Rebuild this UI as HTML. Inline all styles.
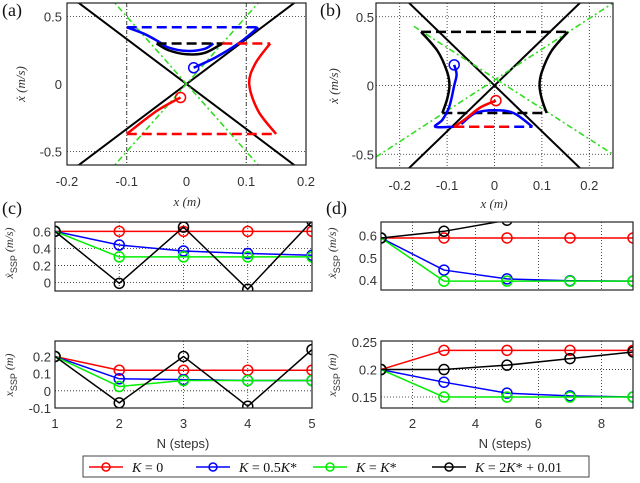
<!DOCTYPE html>
<html><head><meta charset="utf-8"><style>
body{margin:0;background:#fff}
svg text{font-family:"Liberation Sans",sans-serif}
.tk{font-size:13px;fill:#333}
.sr{font-family:"Liberation Serif",serif;font-style:italic}
</style></head><body>
<svg id="s" width="640" height="478" xmlns="http://www.w3.org/2000/svg"></svg>
<script>
const NS="http://www.w3.org/2000/svg";
const S=document.getElementById('s');
// ---- data ----
const colors=["#ff0000","#0000ff","#00ee00","#000000"];
const seriesNames=["K = 0","K = 0.5K*","K = K*","K = 2K* + 0.01"];
const cN=[1,2,3,4,5];
const cVel_red=[0.6,0.6,0.6,0.6,0.6];
const cVel_blue=[0.6,0.44,0.37,0.34,0.32];
const cVel_green=[0.6,0.30,0.30,0.30,0.30];
const cVel_black=[0.6,-0.01,0.65,-0.08,0.72];
const cPos_red=[0.2,0.12,0.12,0.12,0.12];
const cPos_blue=[0.2,0.07,0.065,0.06,0.06];
const cPos_green=[0.2,0.025,0.06,0.06,0.06];
const cPos_black=[0.2,-0.07,0.2,-0.09,0.24];
const dN=[1,3,5,7,9];
const dVel_red=[0.59,0.59,0.59,0.59,0.59];
const dVel_blue=[0.59,0.445,0.405,0.397,0.395];
const dVel_green=[0.59,0.395,0.395,0.395,0.395];
const dVel_black=[0.59,0.62,0.67,0.72,0.78];
const dPos_red=[0.2,0.235,0.235,0.235,0.235];
const dPos_blue=[0.2,0.177,0.157,0.152,0.15];
const dPos_green=[0.2,0.15,0.15,0.15,0.15];
const dPos_black=[0.2,0.2,0.208,0.22,0.232];
const aXTicks=[-0.2,-0.1,0,0.1,0.2];
const aYTicks=[-0.5,0,0.5];
const cVelTicks=[0,0.2,0.4,0.6];
const cPosTicks=[-0.1,0,0.1,0.2];
const dVelTicks=[0.4,0.5,0.6];
const dPosTicks=[0.15,0.2,0.25];
const dXTicks=[2,4,6,8];
// phase curves (data coords)
const aBlueDash=[[-0.1,0.42],[0.12,0.42]];
const aBlueSolid1=[[-0.1,0.42],[-0.07,0.37],[-0.045,0.31]];
const aBlueArc=[[-0.045,0.31],[-0.03,0.27],[0,0.245],[0.03,0.26],[0.045,0.3]];
const aBlueSolid2=[[0.012,0.12],[0.05,0.2],[0.09,0.31],[0.12,0.42]];
const aBlackDash=[[-0.05,0.3],[0.06,0.3]];
const aBlackArc=[[-0.05,0.3],[-0.03,0.25],[0,0.22],[0.03,0.23],[0.06,0.3]];
const aRedSolid=[[-0.01,-0.1],[-0.05,-0.2],[-0.1,-0.37]];
const aRedDash1=[[-0.1,-0.37],[0.15,-0.37]];
const aRedCurve=[[0.15,-0.37],[0.12,-0.2],[0.105,0],[0.115,0.15],[0.14,0.3]];
const aRedDash2=[[0.06,0.3],[0.14,0.3]];
const bBlackDash1=[[-0.155,0.39],[0.155,0.39]];
const bBlackDash2=[[-0.11,-0.2],[0.11,-0.2]];
const bLeftArc=[[-0.155,0.39],[-0.12,0.25],[-0.1,0.1],[-0.095,0],[-0.1,-0.1],[-0.11,-0.2]];
const bRightArc=[[0.155,0.39],[0.12,0.25],[0.1,0.1],[0.095,0],[0.1,-0.1],[0.11,-0.2]];
const bBlueSolid=[[-0.085,0.15],[-0.08,0.08],[-0.085,0],[-0.095,-0.15],[-0.11,-0.25],[-0.125,-0.3],[-0.085,-0.3]];
const bBlueDash=[[-0.085,-0.3],[0.08,-0.3]];
const bBlueArc=[[0.08,-0.3],[0.04,-0.2],[0,-0.18],[-0.04,-0.2],[-0.07,-0.28]];
const bRedSolid=[[0.003,-0.11],[-0.03,-0.16],[-0.06,-0.24],[-0.085,-0.3]];
const bRedDash=[[-0.085,-0.3],[0.03,-0.3]];

function el(t,a,p){const e=document.createElementNS(NS,t);for(const k in a)e.setAttribute(k,a[k]);(p||S).appendChild(e);return e;}
let clipId=0;
function axes(name,x0,x1,y0,y1,X0,X1,Y0,Y1){
  const sx=v=>X0+(v-x0)/(x1-x0)*(X1-X0), sy=v=>Y0+(v-y0)/(y1-y0)*(Y1-Y0);
  const g=el('g',{});
  el('rect',{x:Math.min(X0,X1),y:Math.min(Y0,Y1),width:Math.abs(X1-X0),height:Math.abs(Y1-Y0),fill:'#fff'},g);
  const id='c'+(clipId++);
  const cp=el('clipPath',{id:id},g);el('rect',{x:Math.min(X0,X1),y:Math.min(Y0,Y1),width:Math.abs(X1-X0),height:Math.abs(Y1-Y0)},cp);
  const inner=el('g',{'clip-path':'url(#'+id+')'},g);
  return {sx,sy,g,inner,X0,X1,Y0,Y1};
}
function frame(A){el('rect',{x:Math.min(A.X0,A.X1),y:Math.min(A.Y0,A.Y1),width:Math.abs(A.X1-A.X0),height:Math.abs(A.Y1-A.Y0),fill:'none',stroke:'#222','stroke-width':1.2},A.g);}
function grid(A,xs,ys){xs.forEach(v=>el('line',{x1:A.sx(v),x2:A.sx(v),y1:A.Y0,y2:A.Y1,stroke:'#222','stroke-width':0.8,'stroke-dasharray':'1,2'},A.inner));
 ys.forEach(v=>el('line',{x1:A.X0,x2:A.X1,y1:A.sy(v),y2:A.sy(v),stroke:'#222','stroke-width':0.8,'stroke-dasharray':'1,2'},A.inner));}
function xt(A,ts,y,fmt){ts.forEach(v=>{const t=el('text',{x:A.sx(v),y:y,'text-anchor':'middle',class:'tk'},A.g);t.textContent=fmt?fmt(v):String(v);});}
function yt(A,ts,x,fmt){ts.forEach(v=>{const t=el('text',{x:x,y:A.sy(v)+5,'text-anchor':'end',class:'tk'},A.g);t.textContent=fmt?fmt(v):String(v);});}
function poly(A,pts,col,w,dash,name){const p=el('polyline',{points:pts.map(q=>A.sx(q[0])+','+A.sy(q[1])).join(' '),fill:'none',stroke:col,'stroke-width':w,'stroke-dasharray':dash||'none','stroke-linejoin':'round'},A.inner);
 return p;}
function curve(A,pts,col,w,dash,name){let d='M'+A.sx(pts[0][0])+','+A.sy(pts[0][1]);
 for(let i=1;i<pts.length;i++){const p0=pts[Math.max(i-2,0)],p1=pts[i-1],p2=pts[i],p3=pts[Math.min(i+1,pts.length-1)];
  const c1=[p1[0]+(p2[0]-p0[0])/6,p1[1]+(p2[1]-p0[1])/6],c2=[p2[0]-(p3[0]-p1[0])/6,p2[1]-(p3[1]-p1[1])/6];
  d+=' C'+A.sx(c1[0])+','+A.sy(c1[1])+' '+A.sx(c2[0])+','+A.sy(c2[1])+' '+A.sx(p2[0])+','+A.sy(p2[1]);}
 const p=el('path',{d:d,fill:'none',stroke:col,'stroke-width':w,'stroke-dasharray':dash||'none'},A.inner);
 return p;}
function circ(A,x,y,col,name){const c=el('circle',{cx:A.sx(x),cy:A.sy(y),r:5,fill:'none',stroke:col,'stroke-width':1.5},A.inner);
 }
function label(txt,x,y,size,rot,cls,name){const t=el('text',{x:x,y:y,'font-size':size,'text-anchor':'middle',fill:'#333',class:cls||''});
 if(rot)t.setAttribute('transform','rotate(-90 '+x+' '+y+')');t.innerHTML=txt;return t;}
function plabel(txt,x,y){const t=el('text',{x:x,y:y,'font-size':18,'font-family':'Liberation Serif',fill:'#111'});t.style.fontFamily='"Liberation Serif",serif';t.textContent=txt;}

// ---- panel a ----
const A=axes('panel-a-phase',-0.2,0.2,0.6,-0.6,67,306,3,165);
grid(A,[-0.1,0.1],[-0.5,0.5]);
el('line',{x1:A.sx(-0.1),x2:A.sx(-0.1),y1:3,y2:165,stroke:'#222','stroke-width':0.8,'stroke-dasharray':'4,2,1,2'},A.inner);
el('line',{x1:A.sx(0.1),x2:A.sx(0.1),y1:3,y2:165,stroke:'#222','stroke-width':0.8,'stroke-dasharray':'4,2,1,2'},A.inner);
poly(A,[[-0.2,-0.666],[0.2,0.666]],'#000',2,null,'asymptote-pos');
poly(A,[[-0.2,0.666],[0.2,-0.666]],'#000',2,null,'asymptote-neg');
poly(A,[[-0.13,-0.65],[0.13,0.65]],'#33dd22',1.6,'6,3,2,3','green-line-pos');
poly(A,[[-0.13,0.65],[0.13,-0.65]],'#33dd22',1.6,'6,3,2,3','green-line-neg');
poly(A,aBlueDash,'#0000ff',2.5,'10,5','blue-dash');
curve(A,aBlueSolid1,'#0000ff',2.5,null,'blue-path1');
curve(A,aBlueArc,'#0000ff',2.5,null,'blue-arc');
curve(A,aBlueSolid2,'#0000ff',2.5,null,'blue-path2');
curve(A,aBlackArc,'#000',2.5,null,'black-arc');
poly(A,aBlackDash,'#000',2.5,'10,5','black-dash');
curve(A,aRedSolid,'#ff0000',2.5,null,'red-path');
poly(A,aRedDash1,'#ff0000',2.5,'10,5','red-dash1');
curve(A,aRedCurve,'#ff0000',2.5,null,'red-curve');
poly(A,aRedDash2,'#ff0000',2.5,'10,5','red-dash2');
circ(A,aBlueSolid2[0][0],aBlueSolid2[0][1],'#0000ff','blue-start');
circ(A,aRedSolid[0][0],aRedSolid[0][1],'#ff0000','red-start');
frame(A);xt(A,aXTicks,186);yt(A,aYTicks,62);
label('<tspan class="sr">x</tspan> (m)',187,206,13,0,'sr','x-axis-title-a');
label('<tspan class="sr">ẋ</tspan> (m/s)',25,84,13,1,'sr','y-axis-title-a');
plabel('(a)',2,16);

// ---- panel b ----
const B=axes('panel-b-phase',-0.25,0.25,0.6,-0.6,376,613,3,168);
grid(B,[-0.2,-0.1,0,0.1,0.2],[-0.5,0,0.5]);
poly(B,[[-0.25,-0.833],[0.25,0.833]],'#000',2,null,'asymptote-pos');
poly(B,[[-0.25,0.833],[0.25,-0.833]],'#000',2,null,'asymptote-neg');
poly(B,[[-0.25,-0.52],[0.25,0.6]],'#33dd22',1.6,'6,3,2,3','green-line-pos');
poly(B,[[-0.17,0.43],[0.25,-0.5]],'#33dd22',1.6,'6,3,2,3','green-line-neg');
curve(B,bLeftArc,'#000',2.5,null,'left-arc');
curve(B,bRightArc,'#000',2.5,null,'right-arc');
poly(B,bBlackDash1,'#000',2.5,'10,5','black-dash-top');
poly(B,bBlackDash2,'#000',2.5,'10,5','black-dash-bottom');
curve(B,bBlueSolid,'#0000ff',2.5,null,'blue-path');
poly(B,bBlueDash,'#0000ff',2.5,'10,5','blue-dash');
curve(B,bBlueArc,'#0000ff',2.5,null,'blue-arc');
curve(B,bRedSolid,'#ff0000',2.5,null,'red-path');
poly(B,bRedDash,'#ff0000',2.5,'10,5','red-dash');
circ(B,bBlueSolid[0][0],bBlueSolid[0][1],'#0000ff','blue-start');
circ(B,bRedSolid[0][0],bRedSolid[0][1],'#ff0000','red-start');
frame(B);xt(B,[-0.2,-0.1,0,0.1,0.2],190);yt(B,aYTicks,374);
label('<tspan class="sr">x</tspan> (m)',494,208,13,0,'sr','x-axis-title-b');
label('<tspan class="sr">ẋ</tspan> (m/s)',338,86,13,1,'sr','y-axis-title-b');
plabel('(b)',320,16);

// ---- line charts ----
function lineChart(name,xs,sets,x0,x1,y0,y1,X0,X1,Y0,Y1,xg,yg){
  const C=axes(name,x0,x1,y0,y1,X0,X1,Y0,Y1);grid(C,xg,yg);
  sets.forEach((vals,i)=>{const pts=xs.map((x,j)=>[x,vals[j]]);
    poly(C,pts,colors[i],1.5,null,'series-'+i);
    pts.forEach(p=>circ(C,p[0],p[1],colors[i],'marker-'+i));});
  frame(C);return C;}
const C1=lineChart('panel-c-velocity',cN,[cVel_red,cVel_blue,cVel_green,cVel_black],1,5,0.71,-0.1,55,312,222,291,[2,3,4],[0,0.2,0.4]);
yt(C1,cVelTicks,51,v=>v===0?'0':v.toFixed(1));
const C2=lineChart('panel-c-position',cN,[cPos_red,cPos_blue,cPos_green,cPos_black],1,5,0.29,-0.1,55,312,341,408,[3,4],[0]);
yt(C2,cPosTicks,51,v=>v===0?'0':v.toFixed(1));xt(C2,cN,428);
label('N (steps)',183,448,13,0,'','x-axis-title-c');
label('<tspan class="sr">ẋ</tspan><tspan font-size="9" dy="4">SSP</tspan><tspan dy="-4" class="sr"> (m/s)</tspan>',13,253,12,1,'','y-axis-title-c-top');
label('<tspan class="sr">x</tspan><tspan font-size="9" dy="4">SSP</tspan><tspan dy="-4" class="sr"> (m)</tspan>',13,375,12,1,'','y-axis-title-c-bottom');
plabel('(c)',2,214);
const D1=lineChart('panel-d-velocity',dN,[dVel_red,dVel_blue,dVel_green,dVel_black],1,9,0.662,0.355,381,633,222,290,[2,4,6,8],[]);
yt(D1,dVelTicks,377,v=>v.toFixed(1));
const D2=lineChart('panel-d-position',dN,[dPos_red,dPos_blue,dPos_green,dPos_black],1,9,0.252,0.13,381,633,341,408,[2,4,6,8],[0.15,0.2]);
yt(D2,dPosTicks,377,v=>v===0.2?'0.2':v.toFixed(2));xt(D2,dXTicks,428);
label('N (steps)',505,448,13,0,'','x-axis-title-d');
label('<tspan class="sr">ẋ</tspan><tspan font-size="9" dy="4">SSP</tspan><tspan dy="-4" class="sr"> (m/s)</tspan>',336,253,12,1,'','y-axis-title-d-top');
label('<tspan class="sr">x</tspan><tspan font-size="9" dy="4">SSP</tspan><tspan dy="-4" class="sr"> (m)</tspan>',336,375,12,1,'','y-axis-title-d-bottom');
plabel('(d)',326,214);

// ---- legend ----
const L=el('g',{});
el('rect',{x:83,y:456,width:506,height:21,fill:'#fff',stroke:'#444','stroke-width':1},L);
const lx=[89,196,313,432];
seriesNames.forEach((n,i)=>{const g=el('g',{},L);
 el('line',{x1:lx[i],x2:lx[i]+34,y1:467,y2:467,stroke:colors[i],'stroke-width':1.5},g);
 el('circle',{cx:lx[i]+17,cy:467,r:4,fill:'none',stroke:colors[i],'stroke-width':1.5},g);
 const t=el('text',{x:lx[i]+43,y:472,'font-size':14,fill:'#111'},g);t.style.fontFamily='"Liberation Serif",serif';
 t.innerHTML=n.replace(/K/g,'<tspan font-style="italic">K</tspan>');});
</script>
</body></html>
